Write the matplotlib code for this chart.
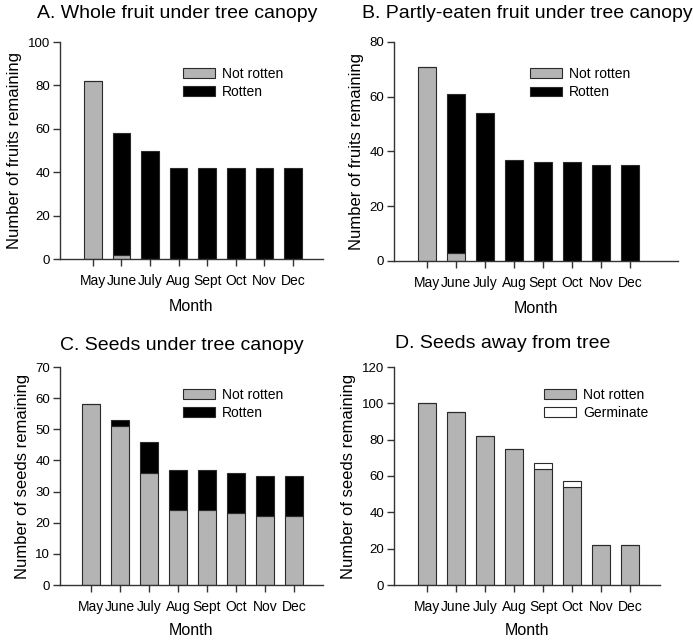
import matplotlib
matplotlib.use("Agg")
import matplotlib.pyplot as plt
import numpy as np

plt.rcParams['font.family'] = ['Liberation Sans', 'DejaVu Sans']

months = ['May', 'June', 'July', 'Aug', 'Sept', 'Oct', 'Nov', 'Dec']

# A. whole fruit under canopy
a_not_rotten = [82, 2, 0, 0, 0, 0, 0, 0]
a_total = [82, 58, 50, 42, 42, 42, 42, 42]
# B. partly-eaten fruit under canopy
b_not_rotten = [71, 3, 0, 0, 0, 0, 0, 0]
b_total = [71, 61, 54, 37, 36, 36, 35, 35]
# C. seeds under canopy
c_not_rotten = [58, 51, 36, 24, 24, 23, 22, 22]
c_total = [58, 53, 46, 37, 37, 36, 35, 35]
# D. seeds away from tree
d_not_rotten = [100, 95, 82, 75, 64, 54, 22, 22]
d_germinate = [0, 0, 0, 0, 3, 3, 0, 0]

GRAY = '#b4b4b4'
EDGE = '#2a2a2a'

W, H = 693, 641
fig = plt.figure(figsize=(W / 100, H / 100), dpi=100)


def px_axes(left, top, right, bottom):
    return fig.add_axes([left / W, (H - bottom) / H, (right - left) / W, (bottom - top) / H])


def style(ax, ymax, ystep, xlim, ylabel, month_y):
    x = np.arange(len(months))
    ax.set_xlim(*xlim)
    ax.set_ylim(0, ymax)
    ax.set_yticks(np.arange(0, ymax + 1, ystep))
    ax.set_xticks(x)
    ax.set_xticklabels(months)
    for s in ['top', 'right']:
        ax.spines[s].set_visible(False)
    for s in ['left', 'bottom']:
        ax.spines[s].set_color('#333333')
        ax.spines[s].set_linewidth(1.0)
    ax.tick_params(axis='both', direction='out', length=5, width=1.0, color='#333333')
    ax.tick_params(axis='x', pad=6, labelsize=10)
    ax.tick_params(axis='y', pad=2, labelsize=9.5)
    ax.set_xlabel('Month', fontsize=11.5)
    ax.xaxis.set_label_coords(0.5, month_y)
    ax.set_ylabel(ylabel, fontsize=12, labelpad=4)


def legend(ax, x0, y0):
    ax.legend(loc='upper left', bbox_to_anchor=(x0, y0), frameon=False,
              fontsize=10, handlelength=2.3, handleheight=0.7,
              labelspacing=0.3, handletextpad=0.5, borderpad=0, borderaxespad=0)


x = np.arange(len(months))
bw = 0.62

# Panel A
axA = px_axes(60, 42, 323, 259)
rot = [t - n for t, n in zip(a_total, a_not_rotten)]
axA.bar(x, a_not_rotten, bw, color=GRAY, edgecolor=EDGE, linewidth=0.8, label='Not rotten')
axA.bar(x, rot, bw, bottom=a_not_rotten, color='black', edgecolor=EDGE, linewidth=0.8, label='Rotten')
style(axA, 100, 20, (-1.15, 8.05), 'Number of fruits remaining', -0.184)
legend(axA, 0.468, 0.885)

# Panel B
axB = px_axes(394, 42, 678, 261)
rot = [t - n for t, n in zip(b_total, b_not_rotten)]
axB.bar(x, b_not_rotten, bw, color=GRAY, edgecolor=EDGE, linewidth=0.8, label='Not rotten')
axB.bar(x, rot, bw, bottom=b_not_rotten, color='black', edgecolor=EDGE, linewidth=0.8, label='Rotten')
style(axB, 80, 20, (-1.14, 8.66), 'Number of fruits remaining', -0.183)
legend(axB, 0.479, 0.885)

# Panel C
axC = px_axes(60, 367, 323, 585)
rot = [t - n for t, n in zip(c_total, c_not_rotten)]
axC.bar(x, c_not_rotten, bw, color=GRAY, edgecolor=EDGE, linewidth=0.8, label='Not rotten')
axC.bar(x, rot, bw, bottom=c_not_rotten, color='black', edgecolor=EDGE, linewidth=0.8, label='Rotten')
style(axC, 70, 10, (-1.07, 8.0), 'Number of seeds remaining', -0.174)
legend(axC, 0.468, 0.905)

# Panel D
axD = px_axes(394, 367, 660, 585)
axD.bar(x, d_not_rotten, bw, color=GRAY, edgecolor=EDGE, linewidth=0.8, label='Not rotten')
axD.bar(x, d_germinate, bw, bottom=d_not_rotten, color='white', edgecolor=EDGE, linewidth=0.8, label='Germinate')
style(axD, 120, 20, (-1.14, 8.03), 'Number of seeds remaining', -0.174)
legend(axD, 0.564, 0.905)

# panel titles
titles = [('A. Whole fruit under tree canopy', 177, 18),
          ('B. Partly-eaten fruit under tree canopy', 527, 18),
          ('C. Seeds under tree canopy', 182, 350),
          ('D. Seeds away from tree', 503, 348)]
for t, cx, by in titles:
    fig.text(cx / W, (H - by) / H, t, ha='center', va='baseline', fontsize=14)

fig.savefig('out.png', dpi=100)
